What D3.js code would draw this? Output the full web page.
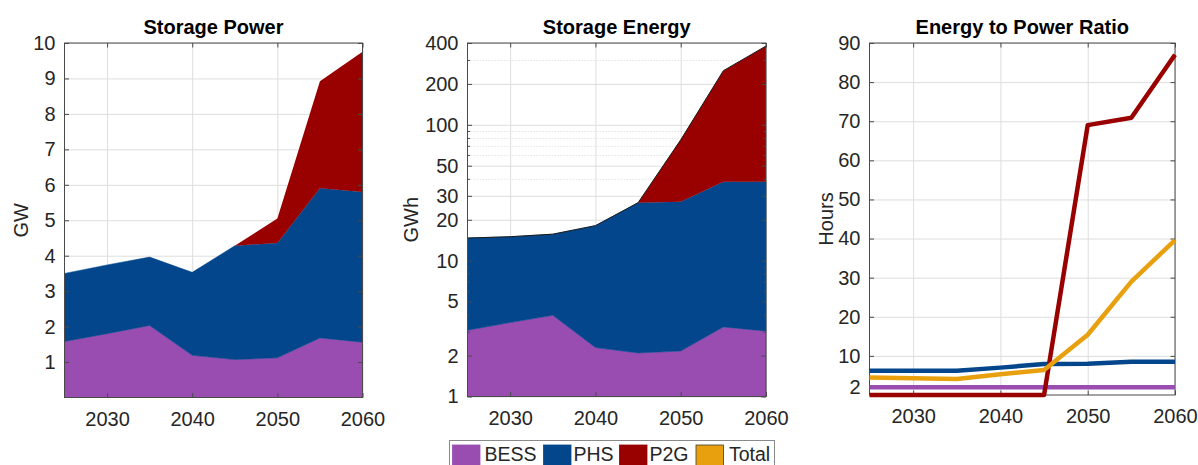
<!DOCTYPE html>
<html><head><meta charset="utf-8">
<script src="https://cdn.jsdelivr.net/npm/d3@7"></script>
<style>
html,body{margin:0;padding:0;background:#fff;}
svg{display:block;font-family:"Liberation Sans",Arial,Helvetica,sans-serif;}
</style></head><body>
<svg id="chart" width="1198" height="465"></svg>
<script>
// Scenario years
const years = [2025, 2030, 2035, 2040, 2045, 2050, 2055, 2060];

// Installed storage power, GW (stacked components)
const powerBESS = [1.58, 1.80, 2.03, 1.19, 1.07, 1.12, 1.68, 1.56];
const powerPHS  = [1.92, 1.94, 1.93, 2.34, 3.21, 3.24, 4.22, 4.24];
const powerP2G  = [0, 0, 0, 0, 0, 0.69, 3.02, 3.95];

// Storage energy capacity, GWh (stacked components)
const energyBESS = [3.07, 3.50, 3.96, 2.29, 2.09, 2.16, 3.25, 3.03];
const energyPHS  = [11.6, 11.5, 11.7, 15.8, 24.6, 25.0, 34.9, 35.1];
const energyP2G  = [0, 0, 0, 0, 0, 50.3, 212, 342];

// Energy to power ratio, hours
const ratioBESS  = [2, 2, 2, 2, 2, 2, 2, 2];
const ratioPHS   = [6.2, 6.2, 6.2, 7.0, 7.9, 8.0, 8.5, 8.5];
const ratioP2G   = [0, 0, 0, 0, 0, 69.0, 70.9, 87.0];
const ratioTotal = [4.5, 4.3, 4.1, 5.3, 6.4, 15.4, 29.0, 39.6];

// Tick labels
const xTicks = [2030, 2040, 2050, 2060];
const powerTicks = [1, 2, 3, 4, 5, 6, 7, 8, 9, 10];
const energyTicks = [1, 2, 5, 10, 20, 30, 50, 100, 200, 400];
const energyMinorTicks = [3, 4, 6, 7, 8, 9, 40, 60, 70, 80, 90, 300];
const ratioTicks = [2, 10, 20, 30, 40, 50, 60, 70, 80, 90];

const seriesNames = ["BESS", "PHS", "P2G", "Total"];
const colors = {BESS: "#9a4db1", PHS: "#03468b", P2G: "#990000", Total: "#e8a00f"};

const svg = d3.select("#chart");
const tickColor = "#4a4a4a";
const textColor = "#262626";
const gridColor = "#dedede";

// Each panel: plot box in pixels
const panels = [
  {left: 64.5, right: 362.5, top: 43, bottom: 397.5, title: "Storage Power", ylabel: "GW", ylabelX: 21},
  {left: 467.5, right: 766, top: 43, bottom: 396.5, title: "Storage Energy", ylabel: "GWh", ylabelX: 411},
  {left: 869.5, right: 1175, top: 43, bottom: 395, title: "Energy to Power Ratio", ylabel: "Hours", ylabelX: 826}
];

function makePanel(p, y, yTicks, minorTicks) {
  const w = p.right - p.left, h = p.bottom - p.top;
  const x = d3.scaleLinear().domain([2025, 2060]).range([0, w]);
  const g = svg.append("g").attr("transform", `translate(${p.left},${p.top})`);

  // grid
  const grid = g.append("g").attr("class", "grid");
  if (minorTicks) {
    grid.append("g").call(d3.axisLeft(y).tickValues(minorTicks).tickSize(-w).tickFormat(""))
      .call(s => s.select(".domain").remove())
      .selectAll("line").attr("stroke", "#e4e4e4").attr("stroke-dasharray", "1.5,1.5");
  }
  grid.append("g").call(d3.axisLeft(y).tickValues(yTicks).tickSize(-w).tickFormat(""))
    .call(s => s.select(".domain").remove())
    .selectAll("line").attr("stroke", gridColor);
  grid.append("g").attr("transform", `translate(0,${h})`)
    .call(d3.axisBottom(x).tickValues(xTicks).tickSize(-h).tickFormat(""))
    .call(s => s.select(".domain").remove())
    .selectAll("line").attr("stroke", gridColor);

  const content = g.append("g");
  const axes = g.append("g");
  return {g, x, y, w, h, content, axes, p, yTicks, minorTicks};
}

function finishPanel(P) {
  const {x, y, w, h, axes, p, yTicks, minorTicks} = P;
  const styleAxis = s => {
    s.select(".domain").remove();
    s.selectAll("line").attr("stroke", tickColor);
    s.selectAll("text").attr("fill", textColor).style("font-size", "20px")
      .style("font-family", '"Liberation Sans",Arial,sans-serif');
  };
  // frame
  axes.append("rect").attr("x", 0).attr("y", 0).attr("width", w).attr("height", h)
    .attr("fill", "none").attr("stroke", tickColor).attr("stroke-width", 1);
  if (minorTicks) {
    axes.append("g").call(d3.axisLeft(y).tickValues(minorTicks).tickSize(-2.5).tickFormat("")).call(styleAxis);
    axes.append("g").attr("transform", `translate(${w},0)`)
      .call(d3.axisRight(y).tickValues(minorTicks).tickSize(-2.5).tickFormat("")).call(styleAxis);
  }
  axes.append("g").call(d3.axisLeft(y).tickValues(yTicks).tickSize(-4.5).tickPadding(9).tickFormat(d3.format("d"))).call(styleAxis);
  axes.append("g").attr("transform", `translate(${w},0)`)
    .call(d3.axisRight(y).tickValues(yTicks).tickSize(-4.5).tickFormat("")).call(styleAxis);
  axes.append("g").attr("transform", `translate(0,${h})`)
    .call(d3.axisBottom(x).tickValues(xTicks).tickSize(-4.5).tickPadding(14).tickFormat(d3.format("d"))).call(styleAxis);
  axes.append("g")
    .call(d3.axisTop(x).tickValues(xTicks).tickSize(-4.5).tickFormat("")).call(styleAxis);

  // title and y label
  svg.append("text").attr("x", (p.left + p.right) / 2).attr("y", 34)
    .attr("text-anchor", "middle").attr("font-weight", "bold").attr("font-size", "20px")
    .attr("fill", "#000").text(p.title);
  svg.append("text")
    .attr("transform", `translate(${p.ylabelX},${(p.top + p.bottom) / 2}) rotate(-90)`)
    .attr("text-anchor", "middle").attr("dominant-baseline", "central")
    .attr("font-size", "20px").attr("fill", textColor).text(p.ylabel);
}

function stackRows(a, b, c) {
  return years.map((yr, i) => ({year: yr, BESS: a[i], PHS: b[i], P2G: c[i]}));
}

// Panel 1: stacked storage power
{
  const p = panels[0];
  const y = d3.scaleLinear().domain([0, 10]).range([p.bottom - p.top, 0]);
  const P = makePanel(p, y, powerTicks);
  const stack = d3.stack().keys(["BESS", "PHS", "P2G"])(stackRows(powerBESS, powerPHS, powerP2G));
  const area = d3.area().x(d => P.x(d.data.year)).y0(d => y(d[0])).y1(d => y(d[1]));
  P.content.selectAll("path").data(stack).join("path")
    .attr("d", area).attr("fill", d => colors[d.key])
    .attr("stroke", d => d.key === "P2G" ? "none" : colors[d.key]).attr("stroke-width", 0.5);
  finishPanel(P);
}

// Panel 2: stacked storage energy on a log axis
{
  const p = panels[1];
  const y = d3.scaleLog().domain([1, 400]).range([p.bottom - p.top, 0]);
  const P = makePanel(p, y, energyTicks, energyMinorTicks);
  const rows = stackRows(energyBESS, energyPHS, energyP2G);
  const stack = d3.stack().keys(["BESS", "PHS", "P2G"])(rows);
  const area = d3.area().x(d => P.x(d.data.year)).y0(d => y(Math.max(1, d[0]))).y1(d => y(Math.max(1, d[1])));
  P.content.selectAll("path.a").data(stack).join("path").attr("class", "a")
    .attr("d", area).attr("fill", d => colors[d.key])
    .attr("stroke", d => d.key === "P2G" ? "none" : colors[d.key]).attr("stroke-width", 0.5);
  const top = stack[stack.length - 1];
  P.content.append("path")
    .attr("d", d3.line().x(d => P.x(d.data.year)).y(d => y(d[1]))(top))
    .attr("fill", "none").attr("stroke", "#1a1a1a").attr("stroke-width", 1);
  finishPanel(P);
}

// Panel 3: energy to power ratio lines
{
  const p = panels[2];
  const y = d3.scaleLinear().domain([0, 90]).range([p.bottom - p.top, 0]);
  const P = makePanel(p, y, ratioTicks);
  const seriesData = {BESS: ratioBESS, PHS: ratioPHS, P2G: ratioP2G, Total: ratioTotal};
  const line = d3.line().x((d, i) => P.x(years[i])).y(d => y(d));
  seriesNames.forEach(k => {
    P.content.append("path").attr("d", line(seriesData[k]))
      .attr("fill", "none").attr("stroke", colors[k]).attr("stroke-width", 4.5)
      .attr("stroke-linejoin", "round");
  });
  finishPanel(P);
  P.g.node().appendChild(P.content.node());
}

// Shared legend
{
  const lg = svg.append("g");
  lg.append("rect").attr("x", 449.5).attr("y", 440.5).attr("width", 325).attr("height", 40)
    .attr("fill", "#fff").attr("stroke", "#8a8a8a").attr("stroke-width", 1);
  const patchX = [452.5, 543.5, 619.5, 696];
  const textX = [484.5, 573.5, 649.5, 729];
  seriesNames.forEach((k, i) => {
    lg.append("rect").attr("x", patchX[i]).attr("y", 445).attr("width", 27.5).attr("height", 30)
      .attr("fill", colors[k]).attr("stroke", k === "Total" ? "#3a3a3a" : colors[k]).attr("stroke-width", 0.8);
    lg.append("text").attr("x", textX[i]).attr("y", 460.5).attr("font-size", "19.5px")
      .attr("fill", textColor).text(k);
  });
}
</script>
</body></html>
